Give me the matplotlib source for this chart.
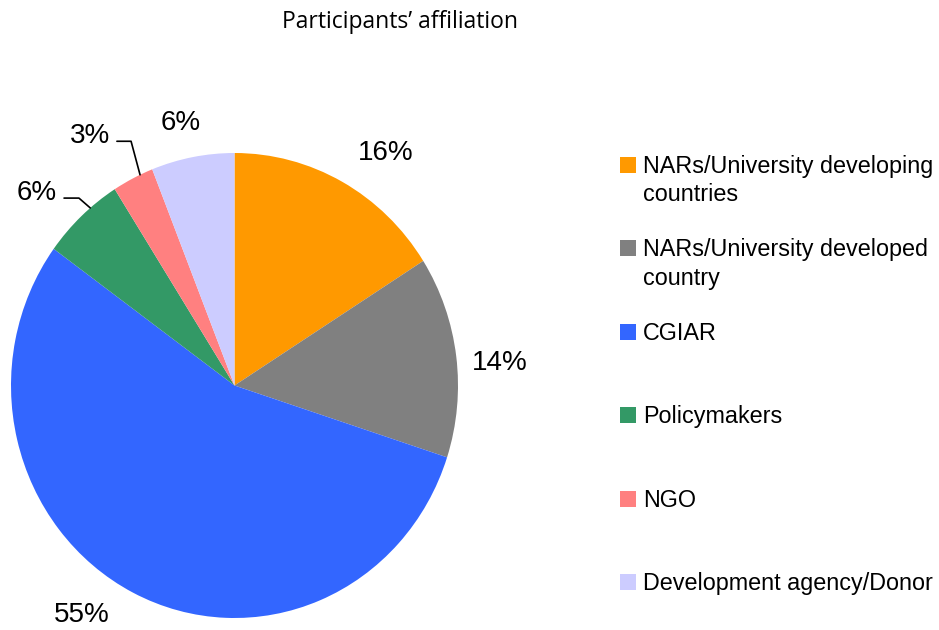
import numpy as np
import matplotlib.pyplot as plt
from matplotlib.patches import Rectangle

# ---Datos---
categorias = ['NARs/University developing\ncountries',
              'NARs/University developed\ncountry',
              'CGIAR',
              'Policymakers',
              'NGO',
              'Development agency/Donor']
porcentajes = [16, 14, 55, 6, 3, 6]
etiquetas = ['16%', '14%', '55%', '6%', '3%', '6%']
colores = ['#FF9900', '#808080', '#3366FF', '#339966', '#FF8080', '#CCCCFF']

# distancia de cada etiqueta (en radios), giro respecto al centro de la porcion
dist_etiqueta = [1.22, 1.19, 1.19, 1.22, 1.264, 1.168]
giro_etiqueta = [-5, -2, -8, 3.2, 3.8, 1.2]
# linea guia: None o (giro del punto de anclaje, angulo del tramo final)
guia = [None, None, None, (-3, 139), (-2, 105), None]

plt.rcParams['font.family'] = ['Liberation Sans', 'DejaVu Sans']

fig = plt.figure(figsize=(9.39, 6.3), dpi=100)

# ---Pie--- (ligeramente mas alto que ancho, como en la original)
izq, der, arriba, abajo = 11, 458, 153, 618
ax = fig.add_axes([izq / 939, (630 - abajo) / 630, (der - izq) / 939, (abajo - arriba) / 630])
wedges, _ = ax.pie(porcentajes, colors=colores, startangle=90, counterclock=False,
                   radius=1, wedgeprops=dict(linewidth=0))
ax.set_aspect('auto')
ax.set_xlim(-1, 1)
ax.set_ylim(-1, 1)
ax.axis('off')

# Etiquetas de porcentaje
for w, txt, d, g, gu in zip(wedges, etiquetas, dist_etiqueta, giro_etiqueta, guia):
    mid = (w.theta1 + w.theta2) / 2
    a = np.deg2rad(mid + g)
    pos = (d * np.cos(a), d * np.sin(a))
    if gu is not None:
        m = np.deg2rad(mid + gu[0])
        borde = (np.cos(m), np.sin(m))
        ax.annotate(txt, xy=borde, xytext=pos, fontsize=20, ha='center', va='center_baseline',
                    annotation_clip=False,
                    arrowprops=dict(arrowstyle='-', color='black', lw=1.2,
                                    shrinkA=3, shrinkB=0, relpos=(1, 0.3),
                                    connectionstyle='angle,angleA=0,angleB=%g,rad=0' % gu[1]))
    else:
        ax.text(pos[0], pos[1], txt, fontsize=20, ha='center', va='center_baseline')

# ---Titulo---
fig.text(400 / 939, 1 - 22 / 630, 'Participants\u2019 affiliation', fontsize=16.5,
         family=['Open Sans', 'DejaVu Sans'], ha='center', va='center')

# ---Leyenda---
y0, paso = 165, 83.4
for i, (cat, col) in enumerate(zip(categorias, colores)):
    y = y0 + i * paso
    fig.patches.append(Rectangle((620 / 939, 1 - (y + 8) / 630), 16 / 939, 16 / 630,
                                 transform=fig.transFigure, facecolor=col, edgecolor='none'))
    fig.text(643 / 939, 1 - (y - 10) / 630, cat, fontsize=16.8, ha='left', va='top',
             linespacing=1.3)

fig.savefig('out.png', dpi=100)
